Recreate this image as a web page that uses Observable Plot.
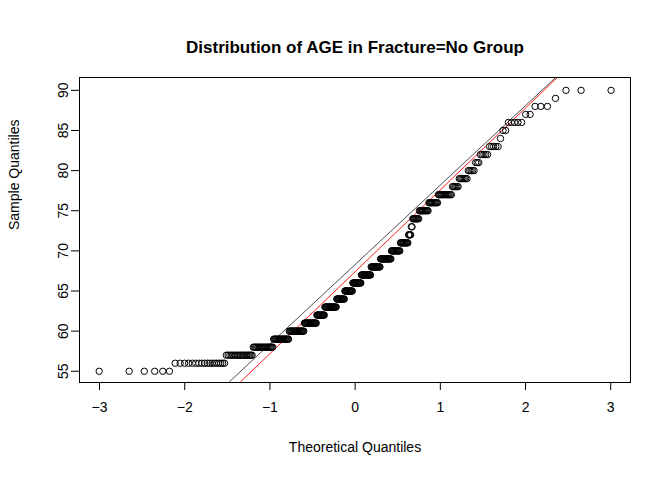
<!DOCTYPE html>
<html><head><meta charset="utf-8">
<script src="https://cdn.jsdelivr.net/npm/d3@7"></script>
<script src="https://cdn.jsdelivr.net/npm/@observablehq/plot@0.6"></script>
<style>body{margin:0;background:#fff}</style>
</head><body><div id="chart"></div>
<script>
const ages   = [55,56,57,58,59,60,61,62,63,64,65,66,67,68,69,70,71,72,73,74,75,76,77,78,79,80,81,82,83,84,85,86,87,88,89,90];
const counts = [ 6,18,19,20,19,21,19,13,20,14,14,15,17,16,18,14,12, 4, 2, 9,12,11,14, 6, 7, 5, 3, 5, 5, 1, 2, 5, 2, 3, 1, 3];
const xTicks = [-3,-2,-1,0,1,2,3];
const yTicks = [55,60,65,70,75,80,85,90];
// reference lines: [intercept, slope]
const blackLine = [68.3, 9.9];
const redLine = [67.4, 10.2];

// inverse normal (Acklam)
function qnorm(p) {
  const a=[-39.6968302866538,220.946098424521,-275.928510446969,138.357751867269,-30.6647980661472,2.50662827745924];
  const b=[-54.4760987982241,161.585836858041,-155.698979859887,66.8013118877197,-13.2806815528857];
  const c=[-0.00778489400243029,-0.322396458041136,-2.40075827716184,-2.54973253934373,4.37466414146497,2.93816398269878];
  const d=[0.00778469570904146,0.32246712907004,2.445134137143,3.75440866190742];
  const pl=0.02425;
  if (p<pl){const q=Math.sqrt(-2*Math.log(p));return (((((c[0]*q+c[1])*q+c[2])*q+c[3])*q+c[4])*q+c[5])/((((d[0]*q+d[1])*q+d[2])*q+d[3])*q+1);}
  if (p>1-pl){const q=Math.sqrt(-2*Math.log(1-p));return -(((((c[0]*q+c[1])*q+c[2])*q+c[3])*q+c[4])*q+c[5])/((((d[0]*q+d[1])*q+d[2])*q+d[3])*q+1);}
  const q=p-0.5,r=q*q;
  return (((((a[0]*r+a[1])*r+a[2])*r+a[3])*r+a[4])*r+a[5])*q/(((((b[0]*r+b[1])*r+b[2])*r+b[3])*r+b[4])*r+1);
}

const sample = ages.flatMap((a, i) => d3.range(counts[i]).map(() => a));
const n = sample.length;
const pts = sample.map((y, i) => ({x: qnorm((i + 1 - 0.5) / n), y}));

const xd = [-3.235, 3.232], yd = [53.6, 91.6];
const lineData = (l) => [{x: xd[0], y: l[0] + l[1]*xd[0]}, {x: xd[1], y: l[0] + l[1]*xd[1]}];

const font = "Liberation Sans, Arial, sans-serif";
const chart = Plot.plot({
  width: 672, height: 480,
  marginLeft: 79, marginRight: 42, marginTop: 77, marginBottom: 98,
  x: {domain: xd, axis: null},
  y: {domain: yd, axis: null},
  style: {fontFamily: font, fontSize: "14px", color: "#000", background: "#fff", overflow: "visible"},
  marks: [
    Plot.line(lineData(blackLine), {x: "x", y: "y", stroke: "#000", strokeWidth: 0.7, clip: true}),
    Plot.line(lineData(redLine), {x: "x", y: "y", stroke: "red", strokeWidth: 0.9, clip: true}),
    Plot.dot(pts, {x: "x", y: "y", r: 3.2, stroke: "#000", fill: "none", strokeWidth: 1}),
    Plot.frame({stroke: "#000"}),
    Plot.axisX(xTicks, {tickSize: 8, tickPadding: 12, fontSize: 14, label: null}),
    Plot.axisY(yTicks, {tickSize: 8, tickPadding: 4, fontSize: 14, label: null, tickRotate: -90, textAnchor: "middle"}),
    Plot.text(["Distribution of AGE in Fracture=No Group"], {frameAnchor: "top", dy: -37, fontWeight: "bold", fontSize: 17}),
    Plot.text(["Theoretical Quantiles"], {frameAnchor: "bottom", dy: 69, fontSize: 14}),
    Plot.text(["Sample Quantiles"], {frameAnchor: "left", dx: -65, rotate: -90, fontSize: 14})
  ]
});
d3.select("#chart").append(() => chart);
</script></body></html>
